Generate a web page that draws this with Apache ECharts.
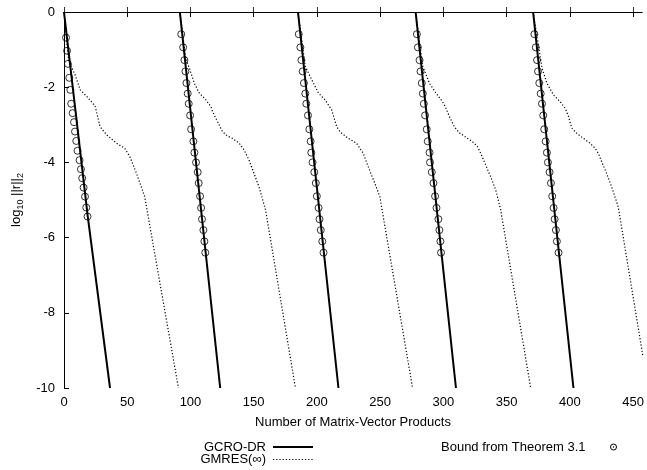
<!DOCTYPE html>
<html>
<head>
<meta charset="utf-8">
<script src="https://cdn.jsdelivr.net/npm/echarts@6/dist/echarts.min.js"></script>
<style>
  html, body { margin: 0; padding: 0; background: #fff; }
  #main { width: 647px; height: 470px; }
</style>
</head>
<body>
<div id="main"></div>
<script>
// axis ticks
const xTicks = [0, 50, 100, 150, 200, 250, 300, 350, 400, 450];
const yTicks = [0, -2, -4, -6, -8, -10];

// GCRO-DR (solid), one list of [x, log10 ||r||] per system
const gcro1 = [[0, 0], [18.8, -5.44], [36.4, -10]];
const gcro2 = [[91.6, 0], [123.5, -10]];
const gcro3 = [[185.0, 0], [217.0, -10]];
const gcro4 = [[278.0, 0], [309.9, -10]];
const gcro5 = [[370.9, 0], [402.8, -10]];

// GMRES(inf) (dotted)
const gmres1 = [[0, 0], [3.6, -1.3], [8.9, -1.68], [12.8, -2.07], [18.1, -2.25], [24.6, -2.5], [28.5, -3.05],
  [33.8, -3.27], [41.6, -3.49], [48.1, -3.63], [52.1, -3.85], [57.3, -4.29], [63.8, -4.91], [90.5, -10]];
const gmres2 = [[91.6, 0], [96.3, -1.25], [99.2, -1.5], [103.1, -1.9], [107.1, -2.16], [112.3, -2.34], [116.2, -2.52],
  [117.5, -2.65], [121.4, -2.92], [125.3, -3.18], [129.3, -3.3], [133.2, -3.36], [138.5, -3.49], [142.4, -3.67],
  [146.3, -3.94], [150.2, -4.29], [154.2, -4.65], [159.4, -5.27], [183, -10]];
const gmres3 = [[185, 0], [190.8, -1.45], [196.0, -1.81], [201.3, -2.16], [206.5, -2.34], [211.7, -2.61],
  [215.6, -3.05], [218.3, -3.19], [224.8, -3.36], [231.3, -3.49], [236.6, -3.76], [240.5, -4.11], [245.8, -4.56],
  [249.7, -4.91], [275.6, -10]];
const gmres4 = [[278, 0], [283.7, -1.45], [289.0, -1.9], [294.2, -2.16], [299.4, -2.39], [302.0, -2.56],
  [304.7, -2.78], [308.6, -3.05], [312.5, -3.21], [317.7, -3.33], [323.0, -3.45], [326.9, -3.58], [329.5, -3.76],
  [333.4, -4.07], [337.3, -4.38], [341.3, -4.73], [345.2, -5.25], [369, -10]];
const gmres5 = [[370.9, 0], [378.0, -1.5], [381.9, -1.9], [387.1, -2.21], [392.4, -2.39], [396.3, -2.56],
  [398.9, -2.78], [401.5, -3.09], [405.5, -3.23], [410.7, -3.36], [415.9, -3.49], [419.8, -3.62], [422.5, -3.76],
  [425.1, -3.98], [429.0, -4.29], [433.0, -4.65], [438.2, -5.18], [457.8, -9.17]];

// Bound from Theorem 3.1 (circles)
const bound1X = [1.6, 2.4, 3.1, 4.2, 5.0, 5.7, 6.8, 7.9, 8.7, 9.7, 10.7, 12.3, 13.4, 14.4, 15.5, 16.6, 17.6, 18.6];
const bound1Y = [-0.68, -1.03, -1.38, -1.75, -2.07, -2.44, -2.69, -2.93, -3.18, -3.43, -3.69, -3.94, -4.18,
  -4.42, -4.67, -4.91, -5.2, -5.44];
const bound2X = [92.7, 94.2, 95.2, 96.0, 96.8, 97.8, 98.6, 99.7, 100.5, 102.3, 103.1, 104.4, 105.7, 106.5,
  107.6, 108.4, 109.1, 110.2, 111.0, 111.7];
const bound3X = [185.6, 186.9, 187.7, 188.7, 189.7, 190.8, 191.6, 192.9, 194.0, 195.0, 195.5, 196.5, 197.9,
  199.1, 199.9, 201.3, 202.0, 203.0, 204.2, 205.2];
const bound4X = [279.0, 279.8, 281.1, 281.9, 282.9, 283.7, 284.5, 285.5, 286.8, 287.6, 289.0, 289.4, 290.8,
  292.1, 293.4, 294.5, 296.0, 296.8, 297.6, 298.1];
const bound5X = [371.9, 373.0, 374.0, 374.8, 375.8, 376.9, 377.9, 378.9, 379.7, 380.8, 381.8, 382.6, 383.9,
  385.0, 386.0, 387.1, 387.9, 388.9, 389.7, 391.0];
const boundY = [-0.59, -0.94, -1.28, -1.58, -1.89, -2.17, -2.44, -2.75, -3.12, -3.44, -3.74, -4.0, -4.26,
  -4.55, -4.9, -5.21, -5.51, -5.8, -6.1, -6.4];

const FONT = '"Liberation Sans", Arial, Helvetica, sans-serif';

const chart = echarts.init(document.getElementById('main'), null, { renderer: 'canvas' });

function zip(xs, ys) {
  return xs.map((x, i) => [x, ys[i]]);
}

function solid(data) {
  return {
    type: 'line', data: data, symbol: 'none', silent: true, animation: false,
    lineStyle: { color: '#000', width: 2 }
  };
}
function dotted(data) {
  return {
    type: 'line', data: data, symbol: 'none', silent: true, animation: false,
    lineStyle: { color: '#000', width: 1.2, type: [1.2, 2] }
  };
}
function circles(data) {
  return {
    type: 'scatter', data: data, symbol: 'circle', symbolSize: 7, silent: true, animation: false,
    itemStyle: { color: 'rgba(0,0,0,0)', borderColor: '#000', borderWidth: 1 }
  };
}

const axisText = { color: '#000', fontFamily: FONT, fontSize: 13 };

chart.setOption({
  backgroundColor: '#fff',
  animation: false,
  grid: { left: 64, right: 0, top: 12, bottom: 82 },
  xAxis: [{
    type: 'value', min: 0, max: 457, interval: 50, position: 'bottom',
    axisLine: { lineStyle: { color: '#333', width: 1 } },
    axisTick: { inside: true, length: 5, lineStyle: { color: '#333' }, customValues: xTicks },
    axisLabel: Object.assign({ margin: 8, customValues: xTicks }, axisText),
    splitLine: { show: false },
    name: 'Number of Matrix-Vector Products', nameLocation: 'middle', nameGap: 28,
    nameTextStyle: axisText
  }, {
    type: 'value', min: 0, max: 457, interval: 50, position: 'top',
    axisLine: { lineStyle: { color: '#000', width: 1 } },
    axisTick: { inside: true, length: 5, lineStyle: { color: '#000' }, customValues: xTicks },
    axisLabel: { show: false }, splitLine: { show: false }
  }],
  yAxis: [{
    type: 'value', min: -10, max: 0, interval: 2,
    axisLine: { show: true, lineStyle: { color: '#000', width: 1 } },
    axisTick: { show: true, inside: true, length: 5, lineStyle: { color: '#000' }, customValues: yTicks },
    axisLabel: Object.assign({ margin: 9, customValues: yTicks }, axisText),
    splitLine: { show: false },
    name: '{n|log}{s|10}{n| ||r||}{s|2}', nameLocation: 'middle', nameGap: 38, nameRotate: 90,
    nameTextStyle: {
      color: '#000', fontFamily: FONT, fontSize: 13,
      rich: {
        n: { fontFamily: FONT, fontSize: 13, color: '#000', lineHeight: 18, verticalAlign: 'middle' },
        s: { fontFamily: FONT, fontSize: 9, color: '#000', lineHeight: 18, verticalAlign: 'bottom', padding: [6, 0, 0, 0] }
      }
    }
  }],
  series: [
    solid(gcro1), solid(gcro2), solid(gcro3), solid(gcro4), solid(gcro5),
    dotted(gmres1), dotted(gmres2), dotted(gmres3), dotted(gmres4), dotted(gmres5),
    circles(zip(bound1X, bound1Y)), circles(zip(bound2X, boundY)), circles(zip(bound3X, boundY)),
    circles(zip(bound4X, boundY)), circles(zip(bound5X, boundY))
  ],
  // legend drawn gnuplot style: label right-aligned, sample on its right
  graphic: [
    { type: 'text', x: 266, y: 447, style: { text: 'GCRO-DR', font: '13px ' + FONT, fill: '#000', align: 'right', verticalAlign: 'middle' } },
    { type: 'line', shape: { x1: 273, y1: 447, x2: 313, y2: 447 }, style: { stroke: '#000', lineWidth: 2 } },
    { type: 'text', x: 266, y: 459.5, style: { text: 'GMRES(\u221e)', font: '13px ' + FONT, fill: '#000', align: 'right', verticalAlign: 'middle' } },
    { type: 'line', shape: { x1: 273, y1: 459.5, x2: 313, y2: 459.5 }, style: { stroke: '#000', lineWidth: 1.2, lineDash: [1.2, 2] } },
    { type: 'text', x: 441, y: 447, style: { text: 'Bound from Theorem 3.1', font: '13px ' + FONT, fill: '#000', align: 'left', verticalAlign: 'middle' } },
    { type: 'circle', shape: { cx: 613.5, cy: 447, r: 3 }, style: { fill: 'none', stroke: '#000', lineWidth: 1 } },
    { type: 'circle', shape: { cx: 613.5, cy: 447, r: 0.7 }, style: { fill: '#000' } }
  ]
});
</script>
</body>
</html>
